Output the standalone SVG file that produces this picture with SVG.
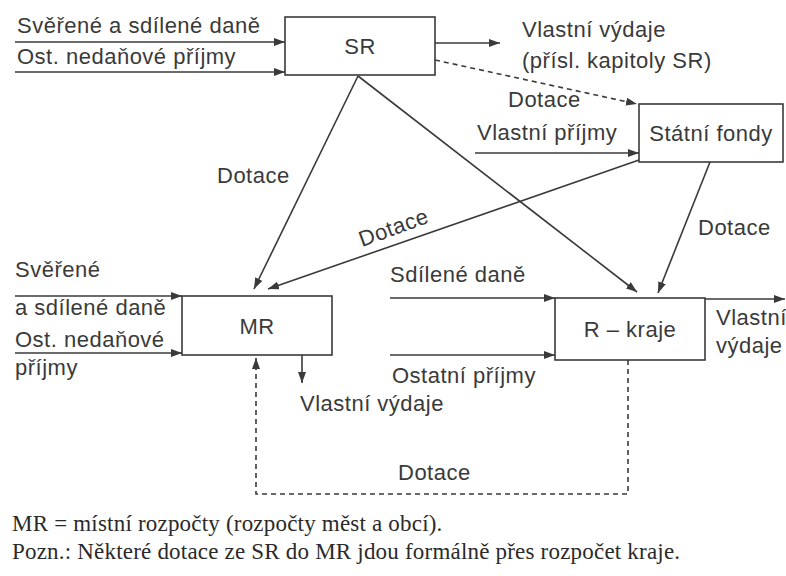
<svg xmlns="http://www.w3.org/2000/svg" width="786" height="576" viewBox="0 0 786 576">
<style>
.t{font-family:"Liberation Sans",Arial,sans-serif;font-size:22px;letter-spacing:0.5px;fill:#3a3a3a}
.f{font-family:"Liberation Serif","Times New Roman",serif;font-size:23px;letter-spacing:0.2px;fill:#2a2a2a}
.c{text-anchor:middle}
.box{fill:#fff;stroke:#3a3a3a;stroke-width:1.6}
.ln{fill:none;stroke:#3a3a3a;stroke-width:1.6;marker-end:url(#ah)}
.dl{fill:none;stroke:#3a3a3a;stroke-width:1.6;stroke-dasharray:5 4}
</style>
<defs>
<marker id="ah" markerUnits="userSpaceOnUse" markerWidth="11" markerHeight="8" refX="11" refY="4" orient="auto">
<path d="M0,0 L11,4 L0,8 z" fill="#3a3a3a"/>
</marker>
</defs>
<rect width="786" height="576" fill="#fff"/>
<g id="connectors">
<line class="ln" x1="15" y1="42" x2="285" y2="42"/>
<line class="ln" x1="15" y1="72" x2="285" y2="72"/>
<line class="ln" x1="435" y1="43" x2="500" y2="43"/>
<line class="dl" x1="435" y1="60" x2="637" y2="104" marker-end="url(#ah)"/>
<line class="ln" x1="475" y1="153" x2="639" y2="153"/>
<line class="ln" x1="358" y1="76" x2="254" y2="289"/>
<line class="ln" x1="358" y1="76" x2="637" y2="292"/>
<line class="ln" x1="639" y1="160" x2="268" y2="289"/>
<line class="ln" x1="710" y1="162" x2="658" y2="293"/>
<line class="ln" x1="15" y1="296" x2="182" y2="296"/>
<line class="ln" x1="15" y1="353" x2="182" y2="353"/>
<line class="ln" x1="302" y1="355" x2="302" y2="383"/>
<line class="ln" x1="390" y1="298" x2="555" y2="298"/>
<line class="ln" x1="390" y1="355" x2="555" y2="355"/>
<line class="ln" x1="705" y1="299" x2="785" y2="299"/>
<polyline class="dl" points="628,360 628,494 256,494 256,358" marker-end="url(#ah)"/>
</g>
<g id="labels">
<text class="t" x="17" y="33">Svěřené a sdílené daně</text>
<text class="t" x="17" y="64">Ost. nedaňové příjmy</text>
<text class="t" x="522" y="37">Vlastní výdaje</text>
<text class="t" x="522" y="68">(přísl. kapitoly SR)</text>
<text class="t" x="508" y="107">Dotace</text>
<text class="t" x="477" y="140">Vlastní příjmy</text>
<text class="t" x="217" y="183">Dotace</text>
<text class="t" x="362" y="247" transform="rotate(-20 362 247)">Dotace</text>
<text class="t" x="698" y="235">Dotace</text>
<text class="t" x="15" y="277">Svěřené</text>
<text class="t" x="15" y="315">a sdílené daně</text>
<text class="t" x="15" y="347">Ost. nedaňové</text>
<text class="t" x="15" y="375">příjmy</text>
<text class="t" x="390" y="282">Sdílené daně</text>
<text class="t" x="392" y="383">Ostatní příjmy</text>
<text class="t" x="716" y="325">Vlastní</text>
<text class="t" x="716" y="353">výdaje</text>
<text class="t" x="300" y="411">Vlastní výdaje</text>
<text class="t" x="398" y="480">Dotace</text>
</g>
<g id="SR"><rect class="box" x="285" y="17" width="150" height="58"/><text class="t c" x="360" y="54">SR</text></g>
<g id="SF"><rect class="box" x="639" y="104" width="144" height="58"/><text class="t c" x="711" y="141" letter-spacing="0">Státní fondy</text></g>
<g id="MR"><rect class="box" x="182" y="296" width="150" height="59"/><text class="t c" x="257" y="334">MR</text></g>
<g id="RK"><rect class="box" x="555" y="298" width="150" height="62"/><text class="t c" x="630" y="337">R – kraje</text></g>
<g id="footer">
<text class="f" x="12" y="531">MR = místní rozpočty (rozpočty měst a obcí).</text>
<text class="f" x="12" y="559">Pozn.: Některé dotace ze SR do MR jdou formálně přes rozpočet kraje.</text>
</g>
</svg>
